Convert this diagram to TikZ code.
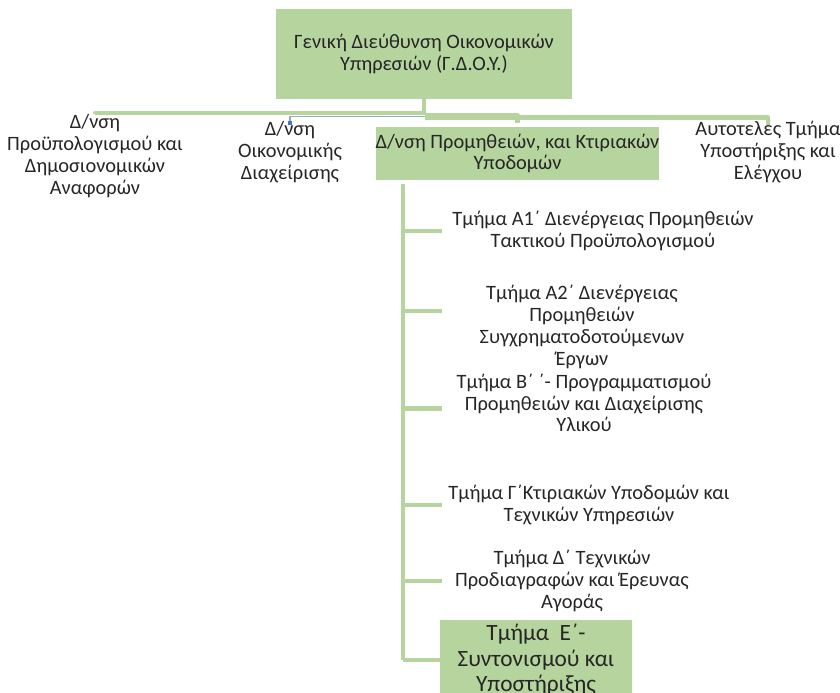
\documentclass[tikz,border=0pt]{standalone}
\usepackage{fontspec}
\setmainfont{Carlito}
\usetikzlibrary{positioning}
\definecolor{boxgreen}{RGB}{181,212,158}
\definecolor{linkblue}{RGB}{150,170,195}
\definecolor{markblue}{RGB}{68,114,196}
\begin{document}
\begin{tikzpicture}[x=0.75pt, y=-0.75pt, line join=round,
    every node/.style={align=center, text=black!85, inner sep=0pt,
      font=\fontsize{15.3}{16.3}\selectfont},
    greenbox/.style={fill=boxgreen},
    link/.style={draw=boxgreen, line width=3.4pt}]
  \useasboundingbox (0,0) rectangle (840,693);

  % 1. top level
  \node[greenbox, minimum width=222pt, minimum height=67.5pt] (gdoy) at (424,54)
    {Γενική Διεύθυνση Οικονομικών\\Υπηρεσιών (Γ.Δ.Ο.Υ.)};

  % 2. directorates
  \node (proyp) at (95,156) {Δ/νση\\Προϋπολογισμού και\\Δημοσιονομικών\\Αναφορών};
  \node (oikon) at (290,152) {Δ/νση\\Οικονομικής\\Διαχείρισης};
  \node[greenbox, minimum width=210.75pt, minimum height=39.75pt] (promith) at (517.5,153.5)
    {Δ/νση Προμηθειών, και Κτιριακών\\Υποδομών};
  \node (autot) at (768,152) {Αυτοτελές Τμήμα\\Υποστήριξης και\\Ελέγχου};

  % 3. departments
  \node (a1) at (603,231) {Τμήμα Α1΄ Διενέργειας Προμηθειών\\Τακτικού Προϋπολογισμού};
  \node (a2) at (582,327) {Τμήμα Α2΄ Διενέργειας\\Προμηθειών\\Συγχρηματοδοτούμενων\\Έργων};
  \node (bsec) at (584,403) {Τμήμα Β΄ ΄- Προγραμματισμού\\Προμηθειών και Διαχείρισης\\Υλικού};
  \node (gsec) at (589,505) {Τμήμα Γ΄Κτιριακών Υποδομών και\\Τεχνικών Υπηρεσιών};
  \node (dsec) at (572,581) {Τμήμα Δ΄ Τεχνικών\\Προδιαγραφών και Έρευνας\\Αγοράς};
  \node[greenbox, minimum width=144pt, minimum height=60pt,
        font=\fontsize{17.5}{19.1}\selectfont] (esec) at (536,660)
    {Τμήμα~ Ε΄-\\Συντονισμού και\\Υποστήριξης};

  % 4. connectors
  \coordinate (bus) at (425,113);
  \coordinate (trunk) at (403,184);
  \coordinate (brx) at (442,0);
  \coordinate (a2br) at ([yshift=12pt]a2.center);
  \coordinate (bbr) at ([yshift=-4pt]bsec.center);
  \draw[draw=linkblue, line width=1pt] ([yshift=-2.5pt]bus) -| (oikon.north);
  \draw[draw=markblue, line width=2.5pt] ([yshift=-3pt]oikon.north) -- (oikon.north);
  \draw[link] (gdoy.south) -- (gdoy.south |- bus);
  \draw[link] (bus) -| (proyp.north);
  \draw[link] ([yshift=-2pt]bus) -| ([yshift=3pt]promith.north);
  \draw[link] ([yshift=-3.5pt]bus) -| ([yshift=-3pt]autot.north);
  \draw[link] (trunk) -- (trunk |- esec);
  \foreach \n in {a1,a2br,bbr,gsec,dsec,esec}
    \draw[link] (trunk |- \n) -- (brx |- \n);
\end{tikzpicture}
\end{document}
